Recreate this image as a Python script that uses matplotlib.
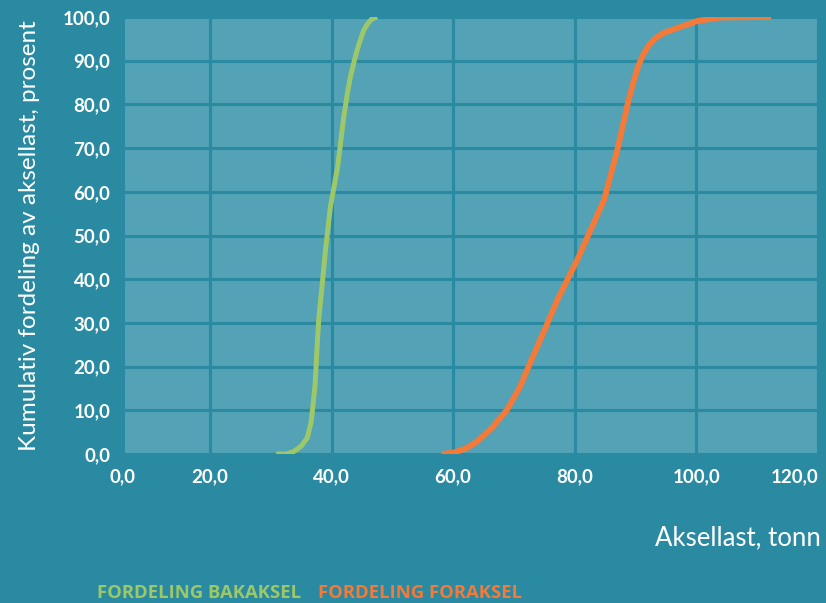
import matplotlib.pyplot as plt

# Kumulativ fordeling av aksellast
bak_x = [30.9, 32.5, 33.7, 35.0, 36.0, 36.6, 36.9, 37.3, 37.6, 37.9, 38.3, 39.0, 39.8, 41.0, 42.0, 42.6, 43.1, 43.7, 44.2, 44.8, 45.3, 46.0, 46.6, 47.5]
bak_y = [0.0, 0.0, 0.5, 1.8, 3.7, 7.0, 10.5, 16.0, 24.0, 31.0, 36.5, 46.7, 56.5, 65.7, 77.1, 82.5, 86.3, 89.8, 92.4, 95.0, 97.0, 98.6, 99.5, 100.0]

for_x = [58.1, 60.0, 62.0, 63.9, 66.5, 68.8, 71.0, 72.6, 75.5, 77.1, 80.4, 84.8, 87.0, 88.6, 89.5, 90.4, 91.2, 92.2, 93.3, 94.7, 97.5, 100.2, 104.0, 112.3]
for_y = [0.0, 0.3, 1.2, 2.8, 6.2, 10.0, 15.4, 20.7, 29.9, 35.2, 44.4, 58.1, 69.6, 79.5, 84.5, 88.6, 91.3, 93.6, 95.2, 96.4, 97.8, 99.1, 99.9, 100.0]

x_ticks = [5.7, 20, 40, 60, 80, 100, 120]
x_labels = ["0,0", "20,0", "40,0", "60,0", "80,0", "100,0", "120,0"]
y_ticks = [0, 10, 20, 30, 40, 50, 60, 70, 80, 90, 100]
y_labels = ["%d,0" % v for v in y_ticks]

BG = '#2a8aa1'
PANEL = '#53a2b5'
GREEN = '#9dc86a'
ORANGE = '#f47a3a'

plt.rcParams['font.family'] = ['Lato', 'DejaVu Sans']

W, H = 826, 603
fig = plt.figure(figsize=(W / 100, H / 100), dpi=100, facecolor=BG)
ax = fig.add_axes([123 / W, (H - 454) / H, (818 - 123) / W, (454 - 17) / H])
ax.set_facecolor(PANEL)

ax.plot(bak_x, bak_y, color=GREEN, lw=3.6, solid_capstyle='butt',
        solid_joinstyle='round', zorder=3)
ax.plot(for_x, for_y, color=ORANGE, lw=4.2, solid_capstyle='butt',
        solid_joinstyle='round', zorder=3)

ax.set_xlim(5.7, 120)
ax.set_ylim(0, 100)
ax.set_xticks(x_ticks)
ax.set_xticklabels(x_labels)
ax.set_yticks(y_ticks)
ax.set_yticklabels(y_labels)
ax.grid(True, color=BG, lw=2.2, zorder=1)
ax.set_axisbelow(True)
for s in ax.spines.values():
    s.set_visible(False)
ax.tick_params(length=0, colors='white', labelsize=13.5)
ax.tick_params(axis='x', pad=10)
ax.tick_params(axis='y', pad=9)
for lab in ax.get_xticklabels() + ax.get_yticklabels():
    lab.set_fontweight('bold')
ax.get_xticklabels()[-1].set_horizontalalignment('right')

fig.text(30 / W, 1 - 236 / H, 'Kumulativ fordeling av aksellast, prosent',
         rotation=90, color='white', fontsize=17.5, ha='center', va='center')
fig.text(821 / W, 1 - 538 / H, 'Aksellast, tonn', color='white', fontsize=18.5,
         ha='right', va='center')
fig.text(97 / W, 1 - 593 / H, 'FORDELING BAKAKSEL', color=GREEN, fontsize=13.3,
         family=['Open Sans', 'DejaVu Sans'], fontweight='bold', ha='left', va='center')
fig.text(318 / W, 1 - 593 / H, 'FORDELING FORAKSEL', color=ORANGE, fontsize=13.3,
         family=['Open Sans', 'DejaVu Sans'], fontweight='bold', ha='left', va='center')

fig.savefig('out.png', dpi=100, facecolor=BG)
